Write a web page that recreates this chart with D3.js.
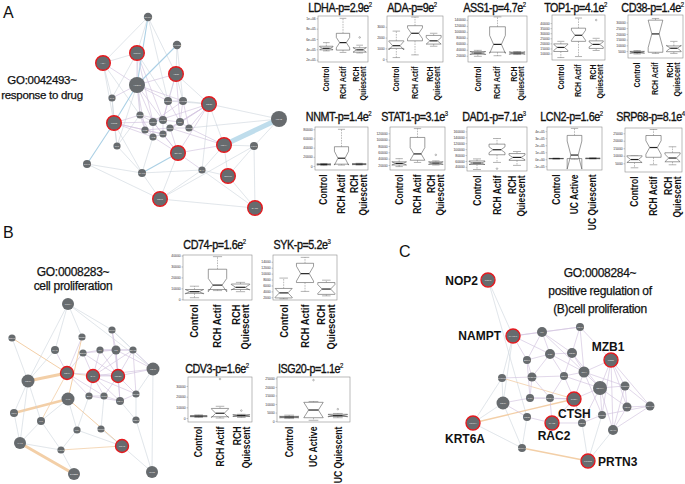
<!DOCTYPE html>
<html>
<head>
<meta charset="utf-8">
<script src="https://cdn.jsdelivr.net/npm/d3@7"></script>
<style>
  body { margin: 0; background: #fff; }
  svg { font-family: "Liberation Sans", Arial, sans-serif; }
</style>
</head>
<body>
<div id="fig"></div>
<script>
// ---------- box plot data ----------
const genes = ["LDHA","ADA","ASS1","TOP1","CD38","NNMT","STAT1","DAD1","LCN2","SRP68","CD74","SYK","CDV3","ISG20"];
const pBase = ["2.9","9","4.7","4.1","1.4","1.4","3.1","7.1","1.6","8.1","1.6","5.2","1.6","1.1"];
const pExp  = ["2","2","2","2","2","2","3","3","2","4","2","3","2","2"];
const groupsRCH = ["Control","RCH Actif","RCH\nQuiescent"];
const groupsUC  = ["Control","UC Active","UC Quiescent"];
const groupKind = ["rch","rch","rch","rch","rch","rch","rch","rch","uc","rch","rch","rch","rch","uc"];

const yDomains = [
  [155000,1045000],[-260,4000],[-1000,153000],[3600,48000],[-1000,36500],
  [-8700,85000],[4200,140000],[26000,175000],[-153000,460000],[-800,28500],
  [-600,40500],[1100,16300],[-3700,38400],[-500,25800]
];
const yTicks = [
  [2e5,4e5,6e5,8e5,1e6],
  [0,1000,2000,3000],
  [20000,40000,60000,80000,100000,120000,140000],
  [10000,15000,20000,25000,30000,35000,40000],
  [5000,10000,15000,20000,25000,30000],
  [0,20000,40000,60000,80000],
  [20000,40000,60000,80000,100000,120000],
  [40000,60000,80000,100000,120000,140000,160000],
  [-1e5,0,1e5,2e5,3e5,4e5],
  [5000,10000,15000,20000,25000],
  [0,10000,20000,30000,40000],
  [2000,4000,6000,8000,10000,12000,14000],
  [0,10000,20000,30000],
  [0,5000,10000,15000,20000,25000]
];
const sciTicks = [true,false,false,false,false,false,false,false,true,false,false,false,false,false];

// [low whisker, Q1, median, Q3, high whisker, notch half-width] per group
const boxStats = [
  [[370000,390000,420000,460000,530000,25000],[340000,385000,530000,710000,1000000,100000],[330000,345000,390000,430000,480000,45000]],
  [[150,1000,1250,1700,2600,400],[400,1700,2400,3100,3900,500],[1200,1400,1700,2200,2400,300]],
  [[18000,25000,29000,34000,38000,5000],[20000,32000,58000,117000,150000,30000],[24000,26000,29000,32000,34000,4000]],
  [[6000,12000,16000,19500,22000,3000],[7000,22000,28000,35000,45000,5000],[13000,15000,19000,22500,25000,2500]],
  [[2500,3300,4000,4800,5500,800],[3000,4000,20000,32000,33500,12000],[3000,4500,7500,9500,13500,2500]],
  [[1000,2500,3500,4500,5500,1000],[2000,4000,17000,42000,80000,15000],[2000,3000,4000,5000,6000,1000]],
  [[15000,20000,25000,30000,40000,5000],[28000,35000,55000,107000,135000,20000],[20000,22000,26000,30000,33000,4000]],
  [[31000,48000,53000,60000,67000,5000],[55000,81000,98000,117000,136000,10000],[45000,62000,72000,85000,92000,8000]],
  [[5000,8000,10000,12000,15000,2000],[0,10000,60000,340000,440000,200000],[5000,8000,12000,16000,20000,3000]],
  [[2000,5500,7500,10000,10000,2000],[4000,9000,15500,23500,27500,4500],[4000,6000,8500,12000,16000,2500]],
  [[1500,5500,7000,9000,12000,2000],[8000,9000,13000,27500,39000,6000],[7000,9000,11000,14000,15500,2500]],
  [[1500,1800,3500,5000,8500,1500],[4000,7000,10000,13500,15500,2500],[2500,3000,4800,7000,7800,1500]],
  [[500,1200,1800,2200,3000,400],[0,1200,4500,9000,11000,4000],[500,1500,2300,3000,3500,800]],
  [[1500,2000,2400,2800,3500,400],[500,2000,6500,11000,11500,4500],[2000,2800,3200,4000,4500,700]]
];
const outliers = [
  [[],[],[630000]], [[],[],[]], [[],[],[]], [[],[],[43000]], [[],[],[]],
  [[],[],[]], [[],[],[52000]], [[],[34000],[]], [[],[],[]], [[],[],[]],
  [[],[],[]], [[],[],[]], [[],[36500],[7000]], [[],[24000],[7000]]
];

// ---------- network data: [x, y, radius, highlighted] in layout units ----------
const netANames = ["CPT1A","PTGS2","NNMT","ADA","ASS1","ACSL1","CAT","GSTP1","CYP1B1","CD38","LCN2","SOD2","HMOX1","NQO1","TNF","IL1B","MMP9","CCL2","ALB","MT2A","LDHB","LDHA","PGK1","TK1","STAT1","GPX1","ICAM1","BAX","SRP68","TOP1","DAD1"];
const netANodes = [
  [68,7,4.2,0],[97,35,4.2,0],[57,43,7.3,1],[23,53,7.3,1],[96,64,7.3,1],[57,75,8,0],[32,88,3.6,0],
  [88,91,4,0],[103,91,4,0],[129,94,7.3,1],[34,113,7.3,1],[60,105,3.6,0],[73,112,4,0],[83,110,4,0],
  [100,112,4,0],[65,120,3.6,0],[90,118,3.6,0],[109,118,3.6,0],[73,127,3.6,0],[83,124,3.6,0],
  [199,109,8,0],[144,135,7.3,1],[174,136,4,0],[37,136,3.6,0],[98,143,7.3,1],[7,154,4,0],
  [62,163,4,0],[122,160,3.6,0],[148,166,7.3,1],[80,189,7.3,1],[175,198,7.3,1]
];
const netAEdges = [
  // [source, target, type] (1-based)
  [1,4,"g"],[1,3,"g"],[1,5,"g"],[1,8,"g"],[2,5,"g"],[2,9,"g"],[3,4,"g"],[3,12,"g"],[3,7,"g"],[4,7,"g"],
  [4,11,"g"],[5,8,"g"],[5,9,"g"],[5,10,"g"],[7,11,"g"],[7,24,"g"],[10,21,"g"],[10,22,"g"],[10,28,"g"],
  [11,24,"g"],[11,27,"g"],[12,24,"g"],[21,23,"g"],[21,18,"g"],[22,23,"g"],[22,28,"g"],[22,29,"g"],
  [23,29,"g"],[23,31,"g"],[24,27,"g"],[26,27,"g"],[26,30,"g"],[27,30,"g"],[27,28,"g"],[28,29,"g"],
  [28,31,"g"],[28,30,"g"],[29,31,"g"],[30,23,"g"],[25,30,"g"],[19,27,"g"],[9,10,"g"],[8,10,"g"],
  [6,24,"g"],[4,12,"g"],[3,8,"g"],[30,31,"g"],
  [3,6,"p"],[4,6,"p"],[5,6,"p"],[6,7,"p"],[6,8,"p"],[6,9,"p"],[6,12,"p"],[6,13,"p"],[6,14,"p"],[6,16,"p"],
  [5,14,"p"],[5,15,"p"],[10,13,"p"],[10,15,"p"],[10,17,"p"],[10,18,"p"],[10,25,"p"],[10,20,"p"],
  [11,12,"p"],[11,13,"p"],[11,16,"p"],[11,19,"p"],[11,20,"p"],[12,13,"p"],[13,14,"p"],[14,15,"p"],
  [15,18,"p"],[16,19,"p"],[17,20,"p"],[19,20,"p"],[13,19,"p"],[14,17,"p"],[15,17,"p"],[12,16,"p"],
  [8,9,"p"],[8,14,"p"],[9,15,"p"],[9,18,"p"],[17,18,"p"],[16,20,"p"],[13,20,"p"],[14,20,"p"],
  [12,19,"p"],[25,19,"p"],[25,20,"p"],[25,17,"p"],[25,13,"p"],[22,18,"p"],[22,25,"p"],[25,28,"p"],
  [22,17,"p"],[3,13,"p"],[3,14,"p"],[9,13,"p"],[8,15,"p"],[16,17,"p"],[12,14,"p"],
  [2,6,"b"],[1,6,"b"],[11,26,"b"],[25,27,"b"],[6,11,"b"],
  [21,22,"B"]
];

const netBNames = ["PCNA","CDK1","MKI67","CCND1","MYC","EGFR","IL6","IL2","STAT3","CD40","CD74","SYK","ISG20","CD19","LYN","BTK","IFNG","CD44","TGFB1","IGF1","KIT","CSF1","MIF","PTPRC","VAV1","CDV3","FGF2","ERBB2","TP53"];
const netBNodes = [
  [68,4,6,0],[12,38,3.6,0],[112,30,3.6,0],[82,37,3.6,0],[55,50,4,0],[83,53,3.6,0],[100,50,3.6,0],
  [116,50,4.5,0],[133,50,3.6,0],[153,69,6.5,0],[67,73,6.5,1],[93,76,6.5,1],[118,76,6.5,1],
  [28,81,6.5,0],[68,99,6.5,0],[89,96,3.6,0],[104,96,3.6,0],[120,101,4,0],[136,94,3.6,0],
  [14,113,4,0],[41,121,4,0],[136,120,3.6,0],[77,130,3.6,0],[101,129,3.6,0],[20,143,6,0],
  [122,146,6.5,1],[61,150,3.6,0],[74,174,6,0],[152,172,6,0]
];
const netBEdges = [
  [14,11,"o",3],[20,15,"o",2.6],[25,28,"o",3],[2,11,"o",1],[4,15,"o",1],[11,21,"o",0.8],[15,26,"o",1],
  [27,26,"o",0.8],[11,12,"o",0.8],
  [1,3,"g"],[1,5,"g"],[1,14,"g"],[1,10,"g"],[1,4,"g"],[3,9,"g"],[3,10,"g"],[14,20,"g"],[14,25,"g"],
  [14,21,"g"],[20,25,"g"],[21,27,"g"],[25,27,"g"],[27,28,"g"],[22,29,"g"],[26,29,"g"],[24,26,"g"],
  [19,22,"g"],[18,22,"g"],[15,21,"g"],[15,23,"g"],[23,26,"g"],[16,23,"g"],[17,24,"g"],[21,25,"g"],
  [2,14,"g"],[5,14,"g"],[10,29,"g"],[10,19,"g"],[23,27,"g"],
  [3,8,"p"],[3,13,"p"],[4,11,"p"],[5,11,"p"],[6,12,"p"],[7,12,"p"],[8,12,"p"],[8,13,"p"],[9,13,"p"],
  [10,13,"p"],[10,12,"p"],[12,13,"p"],[12,16,"p"],[12,17,"p"],[13,18,"p"],[13,19,"p"],[12,18,"p"],
  [13,17,"p"],[8,10,"p"],[9,10,"p"],[7,8,"p"],[6,7,"p"],[12,9,"p"],[7,13,"p"],[6,13,"p"],[16,17,"p"],
  [17,18,"p"],[18,19,"p"],[11,16,"p"],[11,17,"p"],[8,18,"p"],[9,19,"p"],[16,18,"p"],[6,8,"p"],
  [7,9,"p"],[8,9,"p"],[11,6,"p"],[11,13,"p"],[12,19,"p"]
];

const netCNames = ["NOP2","NAMPT","IL6","CD40","BCL6","IL21","CD38","MZB1","TNFSF13B","CD74","IRF4","CXCL12","CD79A","PRDM1","CD19","IL10","POU2AF1","CTSH","XBP1","JCHAIN","TNFRSF17","CD27","RAC2","CD80","KRT6A","IGHM","S100A8","PRTN3"];
const netCNodes = [
  [68,10,7,1],[93,66,7,1],[122,62,5,0],[160,57,4,0],[107,90,4,0],[130,84,5,0],[152,83,5,0],
  [191,90,7,1],[112,107,4.5,0],[144,106,4,0],[164,102,5.5,0],[82,108,4,0],[180,118,7,0],
  [205,116,4.5,0],[83,133,6.5,0],[110,128,4,0],[130,128,4,0],[154,129,7,1],[207,137,4.5,0],
  [230,136,4.5,0],[182,145,4,0],[107,147,4,0],[132,153,7,1],[162,153,4,0],[53,153,7,1],
  [193,160,5,0],[102,178,4,0],[168,191,7,1]
];
const netCEdges = [
  [1,2,"g"],[1,22,"g"],[2,12,"g"],[2,15,"g"],[25,15,"g"],[25,27,"g"],[15,27,"g"],[12,15,"g"],
  [22,27,"g"],[24,28,"g"],[26,28,"g"],[21,28,"g"],[25,12,"g"],
  [27,28,"o",1.3],[25,18,"o",1.3],[12,18,"o",0.8],
  [2,3,"p"],[2,4,"p"],[2,5,"p"],[3,4,"p"],[3,6,"p"],[3,7,"p"],[3,11,"p"],[4,7,"p"],[4,11,"p"],[4,8,"p"],
  [5,6,"p"],[5,9,"p"],[6,7,"p"],[6,9,"p"],[6,10,"p"],[7,10,"p"],[7,11,"p"],[8,11,"p"],[8,13,"p"],
  [8,14,"p"],[8,19,"p"],[8,26,"p"],[8,21,"p"],[9,10,"p"],[9,16,"p"],[10,11,"p"],[10,13,"p"],[11,13,"p"],
  [12,9,"p"],[13,14,"p"],[13,18,"p"],[13,19,"p"],[13,21,"p"],[13,26,"p"],[14,19,"p"],[14,20,"p"],
  [15,22,"p"],[16,17,"p"],[17,18,"p"],[18,23,"p"],[18,24,"p"],[19,20,"p"],[19,26,"p"],[20,26,"p"],
  [21,24,"p"],[23,24,"p"],[13,24,"p"],[11,18,"p"],[16,18,"p"],[9,17,"p"],[2,6,"p"],[5,16,"p"],
  [6,11,"p"],[7,13,"p"],[10,18,"p"],[14,26,"p"],[20,21,"p"],[11,14,"p"],[15,16,"p"],[22,23,"p"],
  [8,20,"p"],[3,5,"p"],[17,23,"p"],[11,21,"p"],[10,17,"p"]
];
const netCLabels = ["NOP2","NAMPT","MZB1","CTSH","RAC2","KRT6A","PRTN3"];

// ---------- layout ----------
// plot frames: x0, y0, x1, y1, title baseline, x-label font size
const frames = [
  [318,16,368,62,11.5,8.3],[387,16,443,62,11.5,8.3],[468,16,527,62,11.5,8.3],
  [552,15,605,60,11.5,8.3],[628,15,683,58,11.5,8.3],
  [315,127,368,170,121,10],[390,127,445,170,121,10],[467,127,527,171,121,10],
  [547,127,602,170,121,10],[625,128,682,172,121,10],
  [183,255,252,300,249,11],[273,255,337,300,249,11],
  [188,377,252,422,373,10.2],[277,377,350,422,373,10.2]
];

const svg = d3.select("#fig").append("svg")
  .attr("width", 685)
  .attr("height", 484);

function rSci(v) {
  if (v === 0) return "0e+00";
  const e = Math.floor(Math.log10(Math.abs(v)));
  const m = Math.round(v / Math.pow(10, e));
  return `${m}e${e < 0 ? "-" : "+"}${String(Math.abs(e)).padStart(2, "0")}`;
}

function drawBoxPlot(i) {
  const [x0, y0, x1, y1, ty, lf] = frames[i];
  const cats = groupKind[i] === "uc" ? groupsUC : groupsRCH;
  const g = svg.append("g").attr("class", "boxplot");

  const x = d3.scalePoint().domain(cats).range([x0, x1]).padding(0.5);
  const y = d3.scaleLinear().domain(yDomains[i]).range([y1, y0]);
  const bw = x.step() * 0.8;

  g.append("rect")
    .attr("x", x0).attr("y", y0)
    .attr("width", x1 - x0).attr("height", y1 - y0)
    .attr("fill", "none").attr("stroke", "#8c8c8c").attr("stroke-width", 0.6);

  const yAxis = d3.axisLeft(y)
    .tickValues(yTicks[i])
    .tickSize(1.5)
    .tickPadding(0.8)
    .tickFormat(sciTicks[i] ? rSci : d3.format("d"));
  const ag = g.append("g").attr("transform", `translate(${x0},0)`).call(yAxis);
  ag.select(".domain").remove();
  ag.selectAll("line").attr("stroke", "#777").attr("stroke-width", 0.4);
  ag.selectAll("text").attr("font-size", 3.4).attr("fill", "#333").attr("font-family", "Liberation Sans, Arial");

  boxStats[i].forEach((s, k) => {
    const [lo, q1, md, q3, hi, nh] = s;
    const cx = x(cats[k]);
    const L = cx - bw / 2, R = cx + bw / 2;
    const pts = [
      [L, y(q1)], [L, y(md - nh)], [cx - bw / 4, y(md)], [L, y(md + nh)], [L, y(q3)],
      [R, y(q3)], [R, y(md + nh)], [cx + bw / 4, y(md)], [R, y(md - nh)], [R, y(q1)]
    ];
    // whiskers
    [[q3, hi], [q1, lo]].forEach(([a, b]) => {
      g.append("line")
        .attr("x1", cx).attr("x2", cx).attr("y1", y(a)).attr("y2", y(b))
        .attr("stroke", "#666").attr("stroke-width", 0.45).attr("stroke-dasharray", "1.6,1");
      g.append("line")
        .attr("x1", cx - bw / 4).attr("x2", cx + bw / 4).attr("y1", y(b)).attr("y2", y(b))
        .attr("stroke", "#666").attr("stroke-width", 0.5);
    });
    g.append("polygon")
      .attr("points", pts.map(p => p.join(",")).join(" "))
      .attr("fill", "#fff").attr("stroke", "#4a4a4a").attr("stroke-width", 0.55);
    g.append("line")
      .attr("x1", cx - bw / 4).attr("x2", cx + bw / 4).attr("y1", y(md)).attr("y2", y(md))
      .attr("stroke", "#222").attr("stroke-width", 1.2);
    outliers[i][k].forEach(v => {
      g.append("circle").attr("cx", cx).attr("cy", y(v)).attr("r", 0.8)
        .attr("fill", "none").attr("stroke", "#555").attr("stroke-width", 0.4);
    });

    // rotated category labels
    const lines = cats[k].split("\n");
    lines.forEach((ln, j) => {
      const off = (j - (lines.length - 1) / 2) * lf * 0.88;
      g.append("text")
        .attr("transform", `translate(${cx + off},${y1 + 4.5}) rotate(-90) scale(0.85,1)`)
        .attr("text-anchor", "end")
        .attr("dy", "0.36em")
        .attr("font-size", lf)
        .attr("font-weight", "bold")
        .attr("fill", "#111")
        .text(ln);
    });
  });

  const t = g.append("text")
    .attr("transform", `translate(${(x0 + x1) / 2 - 3},${ty}) scale(0.86,1)`)
    .attr("text-anchor", "middle")
    .attr("font-size", 12.5)
    .attr("letter-spacing", -0.5)
    .attr("fill", "#111")
    .attr("stroke", "#111")
    .attr("stroke-width", 0.35);
  t.append("tspan").text(`${genes[i]}-p=${pBase[i]}e`);
  t.append("tspan").attr("font-size", 7).attr("stroke-width", 0.2).attr("dy", -5).text(pExp[i]);
}

genes.forEach((_, i) => drawBoxPlot(i));

const edgeStyle = {
  g: { c: "#cbd3db", w: 0.6 },
  p: { c: "#d3c4df", w: 0.7 },
  b: { c: "#a7cee4", w: 1.1 },
  B: { c: "#bcdcec", w: 5 },
  o: { c: "#f3cda3", w: 1 }
};

function drawNetwork(nodes, edges, names, ox, oy, w, h) {
  const g = svg.append("g").attr("class", "network");
  const sx = d3.scaleLinear().domain([0, w]).range([ox, ox + w]);
  const sy = d3.scaleLinear().domain([0, h]).range([oy, oy + h]);

  g.selectAll("line.edge")
    .data(edges)
    .join("line")
    .attr("class", "edge")
    .attr("x1", d => sx(nodes[d[0] - 1][0]))
    .attr("y1", d => sy(nodes[d[0] - 1][1]))
    .attr("x2", d => sx(nodes[d[1] - 1][0]))
    .attr("y2", d => sy(nodes[d[1] - 1][1]))
    .attr("stroke", d => edgeStyle[d[2]].c)
    .attr("stroke-width", d => d[3] || edgeStyle[d[2]].w)
    .attr("stroke-linecap", "round")
    .attr("opacity", 0.95);

  const ng = g.selectAll("g.node")
    .data(nodes)
    .join("g")
    .attr("class", "node")
    .attr("transform", d => `translate(${sx(d[0])},${sy(d[1])})`);
  ng.append("circle")
    .attr("r", d => d[2])
    .attr("fill", "#676b6e")
    .attr("stroke", d => d[3] ? "#e5191e" : "none")
    .attr("stroke-width", d => d[3] ? 1.4 : 0);
  ng.append("text")
    .attr("text-anchor", "middle")
    .attr("dy", "0.35em")
    .attr("font-size", 2.4)
    .attr("fill", "#e8e8e8")
    .text((d, i) => names[i]);
  return { sx, sy };
}

drawNetwork(netANodes, netAEdges, netANames, 80, 10, 210, 205);
drawNetwork(netBNodes, netBEdges, netBNames, 0, 300, 165, 180);
const netC = drawNetwork(netCNodes, netCEdges, netCNames, 420, 270, 240, 200);

// gene labels in panel C
const labelSpec = [
  // node index, anchor, dx, dy
  [0, "end", -10, 5], [1, "end", -12, 4], [7, "middle", -3, -9], [17, "start", -16, 19],
  [22, "middle", 2, 17], [24, "middle", -8, 20], [27, "start", 10, 5]
];
labelSpec.forEach(([ni, anchor, dx, dy], k) => {
  const n = netCNodes[ni];
  svg.append("text")
    .attr("x", netC.sx(n[0]) + dx).attr("y", netC.sy(n[1]) + dy)
    .attr("text-anchor", anchor)
    .attr("font-size", 12).attr("font-weight", "bold").attr("fill", "#111")
    .text(netCLabels[k]);
});

// GO term captions
function caption(lines, cx, y0, lh, size) {
  lines.forEach((ln, j) => {
    svg.append("text")
      .attr("x", cx).attr("y", y0 + j * lh)
      .attr("text-anchor", "middle")
      .attr("font-size", size)
      .attr("letter-spacing", -0.3)
      .attr("fill", "#111")
      .attr("stroke", "#111")
      .attr("stroke-width", 0.25)
      .text(ln);
  });
}
caption(["GO:0042493~", "response to drug"], 42, 84, 15, 11.5);
caption(["GO:0008283~", "cell proliferation"], 73, 276, 14, 12);
caption(["GO:0008284~", "positive regulation of", "(B)cell proliferation"], 600, 277, 18, 12);

// panel letters
[["A", 3, 18], ["B", 3, 238], ["C", 399, 257]].forEach(([t, x, y]) => {
  svg.append("text").attr("x", x).attr("y", y)
    .attr("font-size", 16).attr("fill", "#111").text(t);
});
</script>
</body>
</html>
